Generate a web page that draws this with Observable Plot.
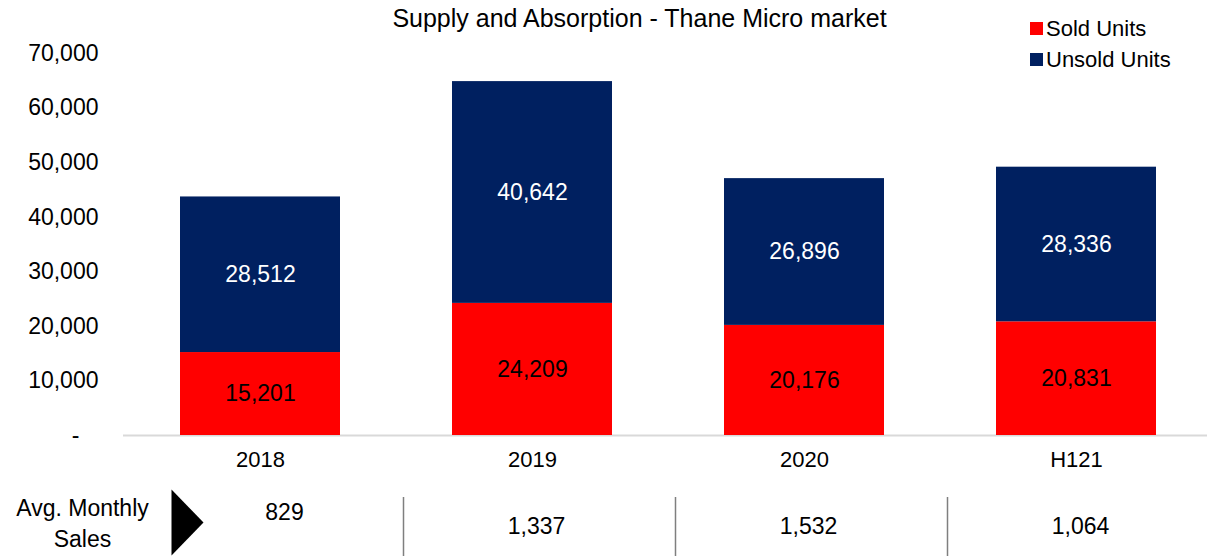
<!DOCTYPE html>
<html>
<head>
<meta charset="utf-8">
<script src="https://cdn.jsdelivr.net/npm/d3@7"></script>
<script src="https://cdn.jsdelivr.net/npm/@observablehq/plot@0.6"></script>
<style>
  html, body { margin: 0; padding: 0; background: #fff; }
  #wrap { position: relative; width: 1207px; height: 556px; overflow: hidden; font-family: "Liberation Sans", Arial, sans-serif; }
  #legend { position: absolute; left: 1030px; top: 13px; font-size: 22px; color: #000; }
  #legend .row { display: flex; align-items: center; height: 31px; }
  #legend .sw { width: 13px; height: 13px; margin-right: 3px; }
</style>
</head>
<body>
<div id="wrap"></div>
<script>
const title = "Supply and Absorption - Thane Micro market";
const categories = ["2018", "2019", "2020", "H121"];
const seriesNames = ["Sold Units", "Unsold Units"];
const seriesColors = ["#FF0000", "#002060"];
const sold = [15201, 24209, 20176, 20831];
const unsold = [28512, 40642, 26896, 28336];
const monthlySales = [829, 1337, 1532, 1064];
const monthlyLabel = "Avg. Monthly\nSales";
const yTicks = [0, 10000, 20000, 30000, 40000, 50000, 60000, 70000];

const fmt = d3.format(",");
const rows = categories.flatMap((c, i) => [
  {cat: c, series: seriesNames[0], value: sold[i]},
  {cat: c, series: seriesNames[1], value: unsold[i]}
]);
const table = categories.map((c, i) => ({cat: c, value: monthlySales[i]}));

const triangle = {
  draw(ctx) {
    ctx.moveTo(-16, -33);
    ctx.lineTo(16, 0);
    ctx.lineTo(-16, 33);
    ctx.closePath();
  }
};

const chart = Plot.plot({
  width: 1207,
  height: 556,
  marginLeft: 123,
  marginRight: -6,
  marginTop: 53,
  marginBottom: 121,
  style: {fontFamily: "Liberation Sans, Arial, sans-serif", fontSize: "22px", color: "#000", background: "#fff", overflow: "visible"},
  x: {domain: categories, paddingInner: 0.413, paddingOuter: 0.2065, label: null},
  y: {domain: [0, 70000], label: null},
  color: {domain: seriesNames, range: seriesColors},
  marks: [
    Plot.axisY({ticks: yTicks, tickSize: 0, tickPadding: 25, label: null,
      tickFormat: d => d === 0 ? "-\u00a0\u00a0\u00a0" : fmt(d), fontSize: 23}),
    Plot.axisX({tickSize: 0, tickPadding: 16, label: null, fontSize: 22}),
    Plot.ruleY([0], {stroke: "#d9d9d9", strokeWidth: 2}),
    Plot.barY(rows, {x: "cat", y: "value", fill: "series"}),
    Plot.text(rows, Plot.stackY({x: "cat", y: "value", z: "series",
      text: d => d.series === seriesNames[0] ? fmt(d.value) : "", fill: "#000", fontSize: 23})),
    Plot.text(rows, Plot.stackY({x: "cat", y: "value", z: "series",
      text: d => d.series === seriesNames[1] ? fmt(d.value) : "", fill: "#fff", fontSize: 23})),
    Plot.text([title], {text: d => d, frameAnchor: "top", dx: -29, dy: -44, fontSize: 25}),
    Plot.ruleX(categories.slice(1), {x: d => d, dx: -129, stroke: "#7f7f7f", strokeWidth: 1.5, insetTop: 444, insetBottom: -121}),
    Plot.text(table.slice(0, 1), {x: "cat", text: d => fmt(d.value), frameAnchor: "bottom", dx: 24, dy: 84, fontSize: 23}),
    Plot.text(table.slice(1), {x: "cat", text: d => fmt(d.value), frameAnchor: "bottom", dx: 4, dy: 98, fontSize: 23}),
    Plot.text([monthlyLabel], {text: d => d, frameAnchor: "bottom-left", dx: -41, dy: 111, lineHeight: 1.32, textAnchor: "middle", fontSize: 23}),
    Plot.dot([0], {frameAnchor: "bottom-left", symbol: triangle, fill: "#000", stroke: null, dx: 64, dy: 87})
  ]
});
const wrap = document.getElementById("wrap");
wrap.appendChild(chart);

const legend = document.createElement("div");
legend.id = "legend";
seriesNames.forEach((s, i) => {
  const row = document.createElement("div");
  row.className = "row";
  const sw = document.createElement("div");
  sw.className = "sw";
  sw.style.background = seriesColors[i];
  const t = document.createElement("span");
  t.textContent = s;
  row.appendChild(sw);
  row.appendChild(t);
  legend.appendChild(row);
});
wrap.appendChild(legend);
</script>
</body>
</html>
